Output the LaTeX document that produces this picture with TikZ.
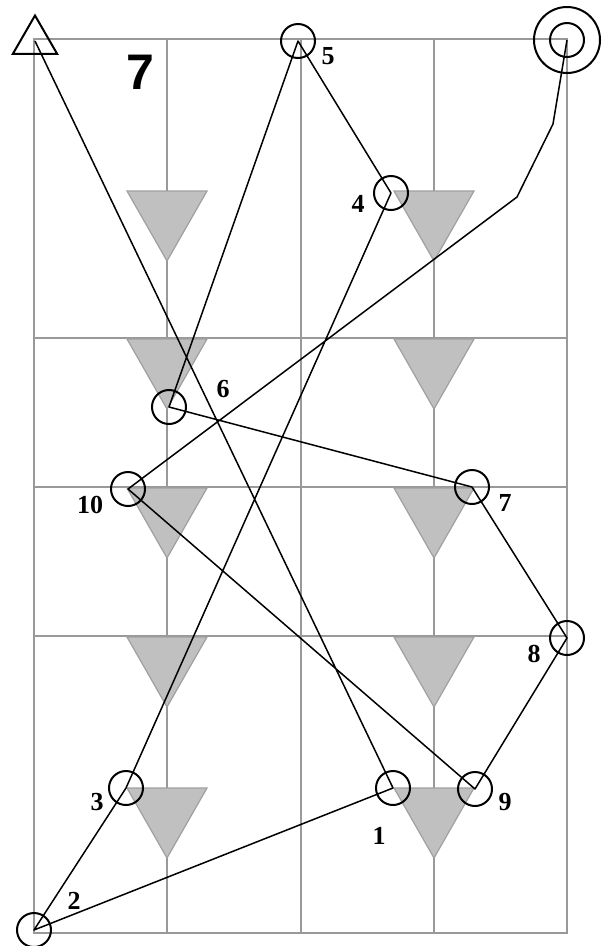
\documentclass[tikz,border=0pt]{standalone}
\usepackage{fontspec}
\setmainfont{Liberation Serif}
\newfontfamily\headfont{Liberation Sans}
\usetikzlibrary{shapes.geometric}

\definecolor{gridgray}{HTML}{999999}
\definecolor{trifill}{HTML}{C0C0C0}
\definecolor{triline}{HTML}{A0A0A0}

\begin{document}
\begin{tikzpicture}[x=1pt, y=-1pt,
  gridline/.style={draw=gridgray, line width=1.8pt},
  tri/.style={fill=trifill, draw=triline, line width=1.2pt},
  route/.style={draw=black, line width=1.5pt, line join=round},
  spot/.style={draw, circle, line width=2pt, minimum size=34pt, inner sep=0pt},
  num/.style={font=\bfseries\fontsize{26}{26}\selectfont, inner sep=0pt}]
\useasboundingbox (0,0) rectangle (610,946);

% grid
\draw[gridline] (34,39) rectangle (567,933);
\draw[gridline] (167,39) -- (167,933);
\draw[gridline] (301,39) -- (301,933);
\draw[gridline] (434,39) -- (434,933);
\draw[gridline] (34,338) -- (567,338);
\draw[gridline] (34,487) -- (567,487);
\draw[gridline] (34,636) -- (567,636);

% triangles
\filldraw[tri] (127,191) -- (207,191) -- (167,261) -- cycle;
\filldraw[tri] (127,339) -- (207,339) -- (167,409) -- cycle;
\filldraw[tri] (127,488) -- (207,488) -- (167,558) -- cycle;
\filldraw[tri] (127,637) -- (207,637) -- (167,707) -- cycle;
\filldraw[tri] (127,788) -- (207,788) -- (167,858) -- cycle;
\filldraw[tri] (394,191) -- (474,191) -- (434,261) -- cycle;
\filldraw[tri] (394,339) -- (474,339) -- (434,409) -- cycle;
\filldraw[tri] (394,488) -- (474,488) -- (434,558) -- cycle;
\filldraw[tri] (394,637) -- (474,637) -- (434,707) -- cycle;
\filldraw[tri] (394,788) -- (474,788) -- (434,858) -- cycle;

% stops
\node[draw, regular polygon, regular polygon sides=3, minimum size=51pt,
  inner sep=0pt, line width=2pt] (start) at (35,41) {};
\node[spot] (n1) at (393,788) {};
\node[spot] (n2) at (34,930) {};
\node[spot] (n3) at (126,788) {};
\node[spot] (n4) at (391,193) {};
\node[spot] (n5) at (298,41) {};
\node[spot] (n6) at (169,407) {};
\node[spot] (n7) at (472,487) {};
\node[spot] (n8) at (567,638) {};
\node[spot] (n9) at (475,789) {};
\node[spot] (n10) at (128,489) {};
\node[spot, minimum size=66pt] (goal) at (567,40) {};
\node[spot] (goalin) at (goal) {};
\coordinate (bendA) at (517,197);
\coordinate (bendB) at (553,124);

% route
\draw[route] (start.center) -- (n1.center) -- (n2.center) -- (n3.center)
  -- (n4.center) -- (n5.center) -- (n6.center) -- (n7.center)
  -- (n8.center) -- (n9.center) -- (n10.center) -- (bendA) -- (bendB)
  -- (goal.center);

% labels
\node[num] (t1) at (379,836) {1};
\node[num] (t2) at (74,901) {2};
\node[num] (t3) at (97,802) {3};
\node[num] (t4) at (358,204) {4};
\node[num] (t5) at (328,56) {5};
\node[num] (t6) at (223,389) {6};
\node[num] (t7) at (505,503) {7};
\node[num] (t8) at (534,654) {8};
\node[num] (t9) at (505,802) {9};
\node[num] (t10) at (90,505) {10};
\node[font=\headfont\bfseries\fontsize{50}{50}\selectfont, inner sep=0pt] (title) at (140,72) {7};
\end{tikzpicture}
\end{document}
